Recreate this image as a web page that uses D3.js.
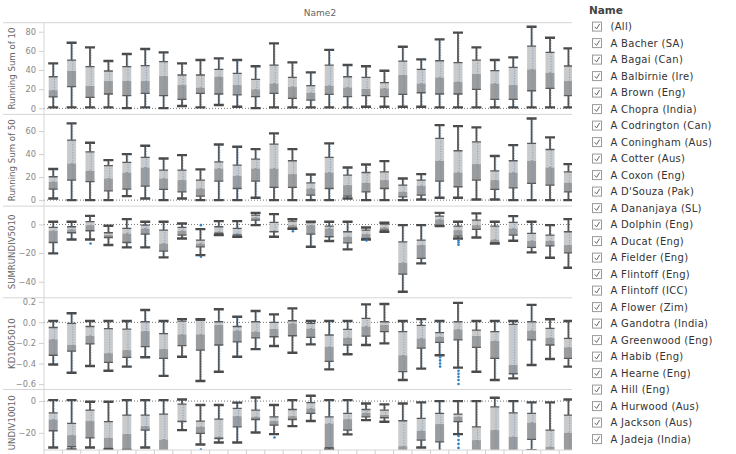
<!DOCTYPE html>
<html>
<head>
<meta charset="utf-8">
<script src="https://cdn.jsdelivr.net/npm/d3@7"></script>
<style>
body{margin:0;background:#fff;}
svg{font-family:"DejaVu Sans",sans-serif;}
</style>
</head>
<body>
<div class="canvas"></div>
<script>
// Name2 columns (their labels are scrolled out of the view)
const columns = ['1','2','3','4','5','6','7','8','9','10','11','12','13','14','15',
  '16','17','18','19','20','21','22','23','24','25','26','27','28','29'];

// box stats per column: [min, q1, median, q3, max]
const runSum10 = [
  [1,12,19,33,47],[1,22.6,39,50.4,68.5],[1,11.5,23.3,43.5,63.7],[1,15,28.5,39,49.4],
  [0.3,13.2,28.5,43.5,56.7],[1,15.7,28.5,44.5,62],[0.3,13.2,33.7,48.7,58.4],[2.4,9.4,24.3,34.8,47],
  [1,15.7,21.6,34.8,50.4],[3.5,15,33,40.7,52.2],[1.7,14,24.3,36.5,50.4],[0.3,12.2,19.8,30.3,44],
  [1,15.7,26,45.2,67.8],[1,10.4,22.6,32.3,48],[1,8.7,16.3,23.7,37.6],[1,14.6,23.7,45.2,61],
  [1,12.2,21.9,33,45.2],[1.7,13.2,20.2,32.3,44],[1.7,12.2,20.9,26.8,39.3],[1.7,14.6,34.8,49.4,64.3],
  [1.7,16.3,26,40.7,51.1],[1,15,32.3,49.7,72],[1,15,27.8,47.7,79],[1,19.8,35.8,50.4,63.7],
  [1,9.4,26,39.3,50.4],[1,9.4,24.3,42.8,53.2],[1,18.4,40.7,65,85.2],[1,20.9,37.2,58.4,73.7],
  [1,13.2,28.5,44.2,62.6]
];
const runSum50 = [
  [1.4,9.6,16,20.3,27],[0,17.4,31.9,52.2,66.7],[0,16,25.5,42,49.9],[0,8.1,18.8,29.9,34.8],
  [3.5,9.6,24,32.8,40],[1.4,12.2,28.4,37.1,47.2],[0,9.3,18.8,26,36.2],[1.4,7.2,17.4,26,39.1],
  [0,3.5,10.1,17.4,26.7],[0,16.5,27.5,33.3,48.4],[0,10.1,21.2,30.4,46.4],[2,16.5,27.5,35.7,44.3],
  [0,11,27.5,48.7,58],[0,11,22.6,34.2,44.3],[0,4.3,10.1,15,22.3],[0,10.1,24,37.1,49.3],
  [1.4,3.5,13,21.7,28.4],[0,7.2,15,24,31],[0,10.1,17.4,24.6,33.9],[0,2.9,7.2,13,18.8],
  [0.6,4.3,12.5,17.4,22.6],[2,16.5,34.2,53.6,65.2],[2,11.6,24,42.9,64.3],[0.6,17.4,31.3,50.7,63.2],
  [0.6,9.3,17.4,25.5,38.3],[0,10.7,24,34.2,47.8],[0,14.5,34.2,49.3,71],[0,13,28.4,44,54.5],
  [0,7.2,15,24.6,31.3]
];
const sumRunDiv5010 = [
  [-20.2,-12.6,-4.4,-2.1,1.9],[-10.5,-5.8,-3.5,-1.6,1.9],[-10.5,-4.4,-0.5,1.9,6],[-14.4,-9.1,-7.4,-5.8,-0.9],
  [-16,-12.6,-6.3,-2.8,3.7],[-16,-6.7,-2.8,-0.5,1.9],[-23,-18.6,-13.3,-4,1.9],[-9.8,-7.4,-4.4,-2.1,0.7],
  [-21.4,-15.6,-13.3,-10.9,-3.3],[-7.4,-6.3,-5.1,-1.6,2.3],[-8.6,-7.4,-6.3,-2.8,2.3],[-0.5,3,4.9,6.5,8.1],
  [-8.6,-5.1,-4.4,1.4,7.2],[-3,-2.8,-0.5,2.3,3.7],[-15.6,-6.7,-0.5,1.2,1.9],[-11.6,-8.6,-2.8,-1.2,1.9],
  [-17.4,-12.8,-8.6,-5.1,1.9],[-10.5,-9.8,-6.7,-4,-2.1],[-5.1,-4,-2.1,0.2,1.2],[-47,-34.7,-26.7,-12.1,-0.5],
  [-27.2,-23.7,-14.4,-10.9,-0.5],[-1.2,-0.5,3.5,5.8,8.1],[-9.8,-8.1,-4,-1.2,1.9],[-9.1,-3.5,-0.5,3,7.7],
  [-13.3,-12.8,-10.5,-1.2,1.9],[-11.4,-7.4,-2.8,1.4,5.8],[-19.5,-16,-11.4,-6.3,1.9],[-23.3,-14.9,-11.4,-7.4,-0.5],
  [-30.2,-19.8,-14.4,-5.1,3.7]
];
const kd1005010 = [
  [-0.41,-0.32,-0.165,-0.05,0.013],[-0.49,-0.28,-0.22,-0.01,0.088],[-0.425,-0.21,-0.13,-0.04,0.013],
  [-0.47,-0.39,-0.3,-0.06,0.013],[-0.43,-0.34,-0.27,-0.065,0.013],[-0.34,-0.235,-0.085,0.006,0.12],
  [-0.52,-0.35,-0.26,-0.11,0.013],[-0.334,-0.227,-0.117,0.013,0.032],[-0.57,-0.27,-0.117,0.02,0.03],
  [-0.48,-0.22,-0.026,0.006,0.127],[-0.334,-0.19,-0.08,-0.04,0.055],[-0.26,-0.15,-0.09,0.006,0.11],
  [-0.23,-0.14,-0.065,0,0.078],[-0.295,-0.13,-0.01,0.016,0.136],[-0.214,-0.146,-0.06,-0.01,0.013],
  [-0.457,-0.38,-0.237,-0.123,0.013],[-0.31,-0.22,-0.15,-0.068,0.013],[-0.22,-0.133,-0.04,0.039,0.175],
  [-0.204,-0.09,-0.026,0.006,0.178],[-0.56,-0.48,-0.32,-0.09,0.013],[-0.45,-0.25,-0.156,-0.03,0.032],
  [-0.32,-0.195,-0.14,-0.1,0.013],[-0.44,-0.17,-0.068,0.006,0.19],[-0.48,-0.243,-0.133,-0.075,0.013],
  [-0.56,-0.35,-0.18,-0.09,0.013],[-0.545,-0.5,-0.415,-0.02,0.013],[-0.415,-0.17,-0.08,0.006,0.17],
  [-0.357,-0.22,-0.15,-0.058,0.03],[-0.43,-0.35,-0.243,-0.156,0.013]
];
const sumRunDiv10010 = [
  [-29.3,-18.7,-11.6,-7.4,0.6],[-30.5,-28.8,-21.5,-14.1,0.6],[-29.3,-23.2,-12.6,-5.7,-0.4],
  [-30.5,-29.9,-23.2,-13,-0.4],[-31,-30.5,-20.8,-8.8,0.6],[-29.3,-18.3,-15.8,-8.8,0.6],
  [-45,-36,-24.2,-8.2,0.6],[-18.3,-13,-12,-1.9,1],[-27.4,-20.4,-16.2,-12.6,-2.5],
  [-26.1,-23.6,-22.5,-11.4,-2.5],[-26.1,-16.2,-9.5,-4.6,-1],[-19.8,-11.6,-9.9,-5.7,2.3],
  [-20.8,-15.2,-12.6,-9.9,-2.5],[-15.8,-11.6,-9.5,-5.3,0.6],[-12.6,-7.8,-4.6,-1,3.4],
  [-30.5,-29.3,-14.1,-9.9,0.6],[-21,-18.3,-11.4,-7.8,0.6],[-12,-9.9,-7.4,-5.3,-1.5],
  [-13,-10.5,-8.8,-5.7,-2.1],[-45,-36,-28.4,-12.4,-1.5],[-29.3,-24.6,-18.7,-10.9,-0.8],
  [-34,-25.7,-14.5,-7.8,0],[-20.8,-13,-9.9,-8.2,0],[-45,-36,-24.6,-16.2,0],
  [-42,-36,-18.3,-3.6,2.1],[-45,-36,-22.5,-7.4,0],[-31,-24.2,-13.5,-7.8,-0.8],
  [-45,-36,-28.8,-18.3,-0.8],[-45,-36,-20,-8.8,1]
];

// single points outside the whiskers: [column, value]
const out5010 = [['3',-13.3],['9',-0.5],['9',-22.6],['14',-4.8],['18',-11.2],['23',-11.2],['23',-12.6],['23',-14.2]];
const outKd = [['22',-0.34],['22',-0.37],['22',-0.4],['22',-0.43],['23',-0.47],['23',-0.5],['23',-0.53],['23',-0.56],['23',-0.6]];
const out10010 = [['9',-30.5],['13',-23],['23',-22],['23',-24.5],['23',-27],['23',-29.5]];

// tick labels
const ticks10 = [0,20,40,60,80];
const ticks50 = [0,20,40,60];
const ticks5010 = [0,-20,-40];
const ticksKd = [0.2,0,-0.2,-0.4,-0.6];
const ticks10010 = [0,-20];

// legend
const legendTitle = 'Name';
const names = ['(All)','A Bacher (SA)','A Bagai (Can)','A Balbirnie (Ire)','A Brown (Eng)','A Chopra (India)',
  'A Codrington (Can)','A Coningham (Aus)','A Cotter (Aus)','A Coxon (Eng)',"A D'Souza (Pak)",
  'A Dananjaya (SL)','A Dolphin (Eng)','A Ducat (Eng)','A Fielder (Eng)','A Flintoff (Eng)',
  'A Flintoff (ICC)','A Flower (Zim)','A Gandotra (India)','A Greenwood (Eng)','A Habib (Eng)',
  'A Hearne (Eng)','A Hill (Eng)','A Hurwood (Aus)','A Jackson (Aus)','A Jadeja (India)'];

const svg = d3.select('.canvas')
.append('svg')
    .attr('width', 736)
    .attr('height', 454);

const left = 44, right = 572, plotTop = 22.7, panelH = 91.7, viewBottom = 450;

const panels = [
  {title:'Running Sum of 10', data:runSum10, domain:[-6.3,89.4], ticks:ticks10, fmt:d3.format('d'), out:[]},
  {title:'Running Sum of 50', data:runSum50, domain:[-5.2,74.5], ticks:ticks50, fmt:d3.format('d'), out:[]},
  {title:'SUMRUNDIV5010', data:sumRunDiv5010, domain:[-51.2,12.8], ticks:ticks5010, fmt:d3.format('d'), out:out5010},
  {title:'KD1005010', data:kd1005010, domain:[-0.653,0.239], ticks:ticksKd, fmt:d3.format('.1f'), out:outKd},
  {title:'SUMRUNDIV10010', data:sumRunDiv10010, domain:[-50.5,7.3], ticks:ticks10010, fmt:d3.format('d'), out:out10010}
];

// band scale, last column runs past the visible edge
const x = d3.scaleBand()
  .domain(columns)
  .range([left, left + columns.length * 18.4]);
const bw = x.bandwidth();

// title
svg.append('text')
  .attr('x', 320).attr('y', 16)
  .attr('text-anchor', 'middle')
  .attr('font-size', 9).attr('fill', '#666')
  .text('Name2');

const defs = svg.append('defs');

panels.forEach((p, i) => {
  const y0 = plotTop + i * panelH;
  const y1 = Math.min(y0 + panelH, viewBottom);
  const y = d3.scaleLinear().domain(p.domain).range([y0 + panelH, y0]);

  defs.append('clipPath').attr('id', 'plot' + i)
    .append('rect').attr('x', left).attr('y', y0).attr('width', right - left).attr('height', y1 - y0);
  defs.append('clipPath').attr('id', 'lab' + i)
    .append('rect').attr('x', 0).attr('y', y0).attr('width', left).attr('height', y1 - y0);

  // separator above the panel
  svg.append('line')
    .attr('x1', 3).attr('x2', right).attr('y1', y0).attr('y2', y0)
    .attr('stroke', '#d6d6d6');

  // axis title (the last panel runs below the view, so its title is cut like the pane)
  svg.append('g').attr('clip-path', `url(#lab${i})`)
    .append('text')
    .attr('transform', `translate(15,${y0 + panelH / 2}) rotate(-90)`)
    .attr('text-anchor', 'middle')
    .attr('font-size', 8.6).attr('fill', '#666')
    .text(p.title);

  // y axis
  const yAxis = d3.axisLeft(y).tickValues(p.ticks).tickSize(5).tickPadding(3).tickFormat(p.fmt);
  const ag = svg.append('g').attr('transform', `translate(${left},0)`).call(yAxis);
  ag.select('.domain').remove();
  ag.selectAll('line').attr('stroke', '#cfcfcf');
  ag.selectAll('text').attr('fill', '#888').attr('font-size', 8.3)
    .style('font-family', '"DejaVu Sans",sans-serif');

  const g = svg.append('g').attr('clip-path', `url(#plot${i})`);

  // zero line
  g.append('line')
    .attr('x1', left).attr('x2', right).attr('y1', y(0)).attr('y2', y(0))
    .attr('stroke', '#777').attr('stroke-dasharray', '1,2');

  const cx = (d, j) => x(columns[j]) + bw / 2;

  // whiskers
  g.selectAll('.whisker').data(p.data).enter().append('line')
    .attr('x1', cx).attr('x2', cx)
    .attr('y1', d => y(d[4])).attr('y2', d => y(d[0]))
    .attr('stroke', '#555').attr('stroke-width', 1.8);

  // upper box (median - q3)
  g.selectAll('.upper').data(p.data).enter().append('rect')
    .attr('x', (d, j) => cx(d, j) - 4.5).attr('width', 9)
    .attr('y', d => y(d[3])).attr('height', d => y(d[2]) - y(d[3]))
    .attr('fill', '#c9cacc');

  // lower box (q1 - median)
  g.selectAll('.lower').data(p.data).enter().append('rect')
    .attr('x', (d, j) => cx(d, j) - 4.5).attr('width', 9)
    .attr('y', d => y(d[2])).attr('height', d => y(d[1]) - y(d[2]))
    .attr('fill', '#9b9c9e');

  // hinge lines at q1 and q3
  [1, 3].forEach(k => {
    g.selectAll('.hinge' + k).data(p.data).enter().append('line')
      .attr('x1', (d, j) => cx(d, j) - 4.5).attr('x2', (d, j) => cx(d, j) + 4.5)
      .attr('y1', d => y(d[k])).attr('y2', d => y(d[k]))
      .attr('stroke', '#5a5a5a').attr('stroke-width', 1.3);
  });

  // caps
  [0, 4].forEach(k => {
    g.selectAll('.cap' + k).data(p.data).enter().append('line')
      .attr('x1', (d, j) => cx(d, j) - 5).attr('x2', (d, j) => cx(d, j) + 5)
      .attr('y1', d => y(d[k])).attr('y2', d => y(d[k]))
      .attr('stroke', '#4a4a4a').attr('stroke-width', 2.4);
  });

  // underlying marks along each column
  g.selectAll('.pts').data(p.data).enter().append('line')
    .attr('x1', (d, j) => cx(d, j) + 1.2).attr('x2', (d, j) => cx(d, j) + 1.2)
    .attr('y1', d => y(d[4])).attr('y2', d => y(d[0]))
    .attr('stroke', '#3a86c8').attr('stroke-width', 1)
    .attr('stroke-dasharray', '1,1.6').attr('opacity', 0.55);

  // outliers
  g.selectAll('.out').data(p.out).enter().append('circle')
    .attr('cx', d => x(d[0]) + bw / 2 + 0.5)
    .attr('cy', d => y(d[1]))
    .attr('r', 1.3)
    .attr('fill', '#2f7fc4');
});

// vertical axis line and bottom axis
svg.append('line')
  .attr('x1', left).attr('x2', left).attr('y1', plotTop).attr('y2', viewBottom)
  .attr('stroke', '#d6d6d6');
svg.append('line')
  .attr('x1', left).attr('x2', right).attr('y1', viewBottom).attr('y2', viewBottom)
  .attr('stroke', '#d6d6d6');
svg.selectAll('.xtick').data(columns).enter().append('line')
  .attr('x1', d => x(d)).attr('x2', d => x(d))
  .attr('y1', viewBottom).attr('y2', viewBottom + 4)
  .attr('stroke', '#cfcfcf');

// legend
const legend = svg.append('g');
legend.append('text')
  .attr('x', 589).attr('y', 14)
  .attr('font-size', 10.5).attr('font-weight', 'bold').attr('fill', '#444')
  .text(legendTitle);

const item = legend.selectAll('.item').data(names).enter().append('g')
  .attr('transform', (d, i) => `translate(0,${26.6 + i * 16.5})`);
item.append('rect')
  .attr('x', 592.5).attr('y', -4.5).attr('width', 9).attr('height', 9)
  .attr('fill', '#fff').attr('stroke', '#9a9a9a');
item.append('path')
  .attr('d', 'M594.6,0.2 L596.6,2.3 L599.6,-2.6')
  .attr('fill', 'none').attr('stroke', '#555').attr('stroke-width', 0.9);
item.append('text')
  .attr('x', 610.5).attr('dy', '0.35em')
  .attr('font-size', 10).attr('letter-spacing', 0.3).attr('fill', '#333')
  .text(d => d);
</script>
</body>
</html>
